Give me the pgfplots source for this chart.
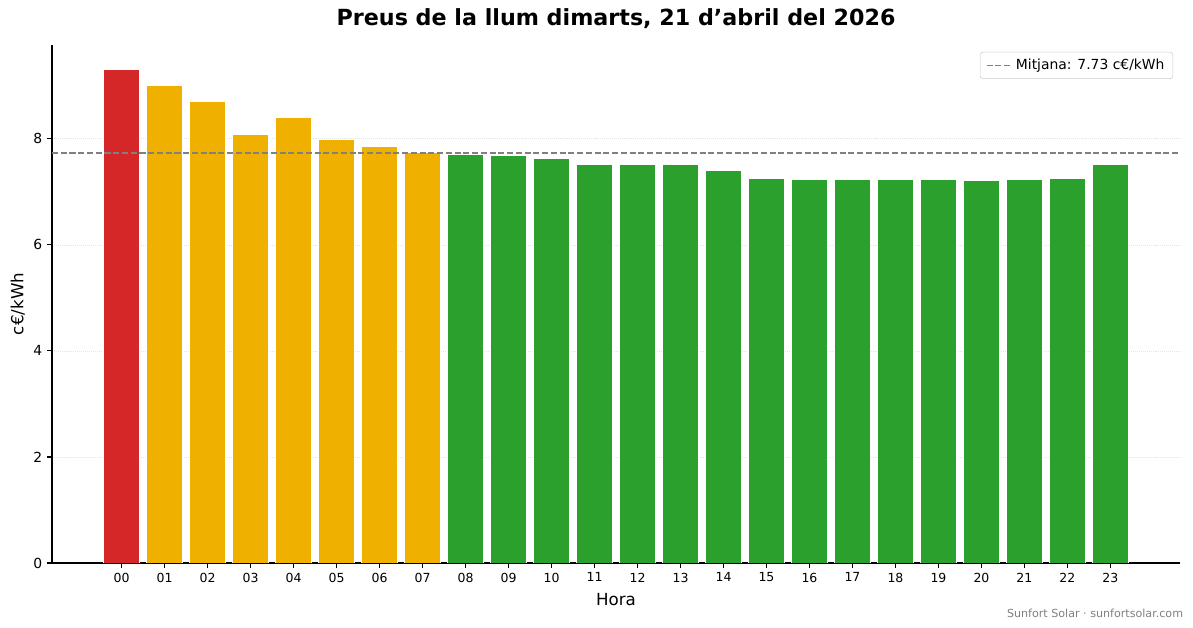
\documentclass[border=0pt]{standalone}
\usepackage{fontspec}
\setmainfont{DejaVu Sans}
\usepackage{pgfplots}
\pgfplotsset{compat=1.18}
\definecolor{vermell}{HTML}{D62728}
\definecolor{ambar}{HTML}{F0B000}
\definecolor{verd}{HTML}{2CA02C}
\definecolor{mitjana}{HTML}{808080}
\begin{document}
\begin{tikzpicture}
\begin{axis}[at={(0,0)}, anchor=south west,
             scale only axis, width=812.2pt, height=373pt,
             xmin=-1.62, xmax=24.62, ymin=0, ymax=9.77,
             axis lines=left, axis line style={-, line width=0.8pt},
             tick align=outside, major tick length=3.5pt,
             tick style={black, line width=0.8pt},
             xtick={0,1,...,23},
             xticklabels={00,01,02,03,04,05,06,07,08,09,10,11,12,13,14,15,16,17,18,19,20,21,22,23},
             ytick={0,2,4,6,8},
             /pgf/number format/assume math mode=true,
             x tick label style={font=\fontsize{9}{11}\selectfont},
             y tick label style={font=\fontsize{10}{12}\selectfont},
             ymajorgrids, major grid style={densely dotted, gray!20, line width=0.5pt},
             every axis title shift=0pt,
             title={Preus de la llum dimarts, 21 d’abril del 2026},
             title style={font=\fontsize{16}{19}\selectfont\bfseries,
                          at={(axis description cs:0.5,1.050)}, anchor=center},
             xlabel={Hora},
             xlabel style={font=\fontsize{12}{14}\selectfont,
                           at={(axis description cs:0.5,-0.0713)}, anchor=center},
             ylabel={c€/kWh},
             ylabel style={font=\fontsize{12}{14}\selectfont,
                           at={(axis description cs:-0.0302,0.5)}, anchor=center},
             legend style={at={(axis description cs:1,1)}, anchor=north east,
                           xshift=-5pt, yshift=-5pt, draw=gray!40, rounded corners=2pt,
                           font=\fontsize{10}{12}\selectfont, inner xsep=4pt, inner ysep=3pt}]
  \addplot[ybar, bar width=0.85, bar shift=0pt, fill=vermell, draw=white,
           line width=0.7pt, forget plot] coordinates {(0,9.30)};
  \addplot[ybar, bar width=0.85, bar shift=0pt, fill=ambar, draw=white,
           line width=0.7pt, forget plot] coordinates {
    (1,9.00) (2,8.70) (3,8.09) (4,8.40) (5,7.98) (6,7.85) (7,7.74)};
  \addplot[ybar, bar width=0.85, bar shift=0pt, fill=verd, draw=white,
           line width=0.7pt, forget plot] coordinates {
    (8,7.70) (9,7.68) (10,7.62) (11,7.51) (12,7.51) (13,7.51) (14,7.40)
    (15,7.26) (16,7.23) (17,7.23) (18,7.23) (19,7.23) (20,7.21) (21,7.23)
    (22,7.26) (23,7.51)};
  \addplot[mitjana, line width=1.2pt, dash pattern=on 4.4pt off 1.9pt,
           legend image code/.code={\draw[mitjana, line width=1.2pt,
             dash pattern=on 4.4pt off 1.9pt] (0cm,0cm) -- (0.65cm,0cm);}]
    coordinates {(-1.62,7.73) (24.62,7.73)};
  \addlegendentry{Mitjana: 7.73 c€/kWh}
\end{axis}
\node[anchor=east, text=gray, font=\fontsize{8}{10}\selectfont]
  at (817.9pt,-36pt) {Sunfort Solar · sunfortsolar.com};
\pgfresetboundingbox
\path[use as bounding box] (-37.44pt,-46.8pt) rectangle (821.52pt,405.36pt);
\end{tikzpicture}
\end{document}
